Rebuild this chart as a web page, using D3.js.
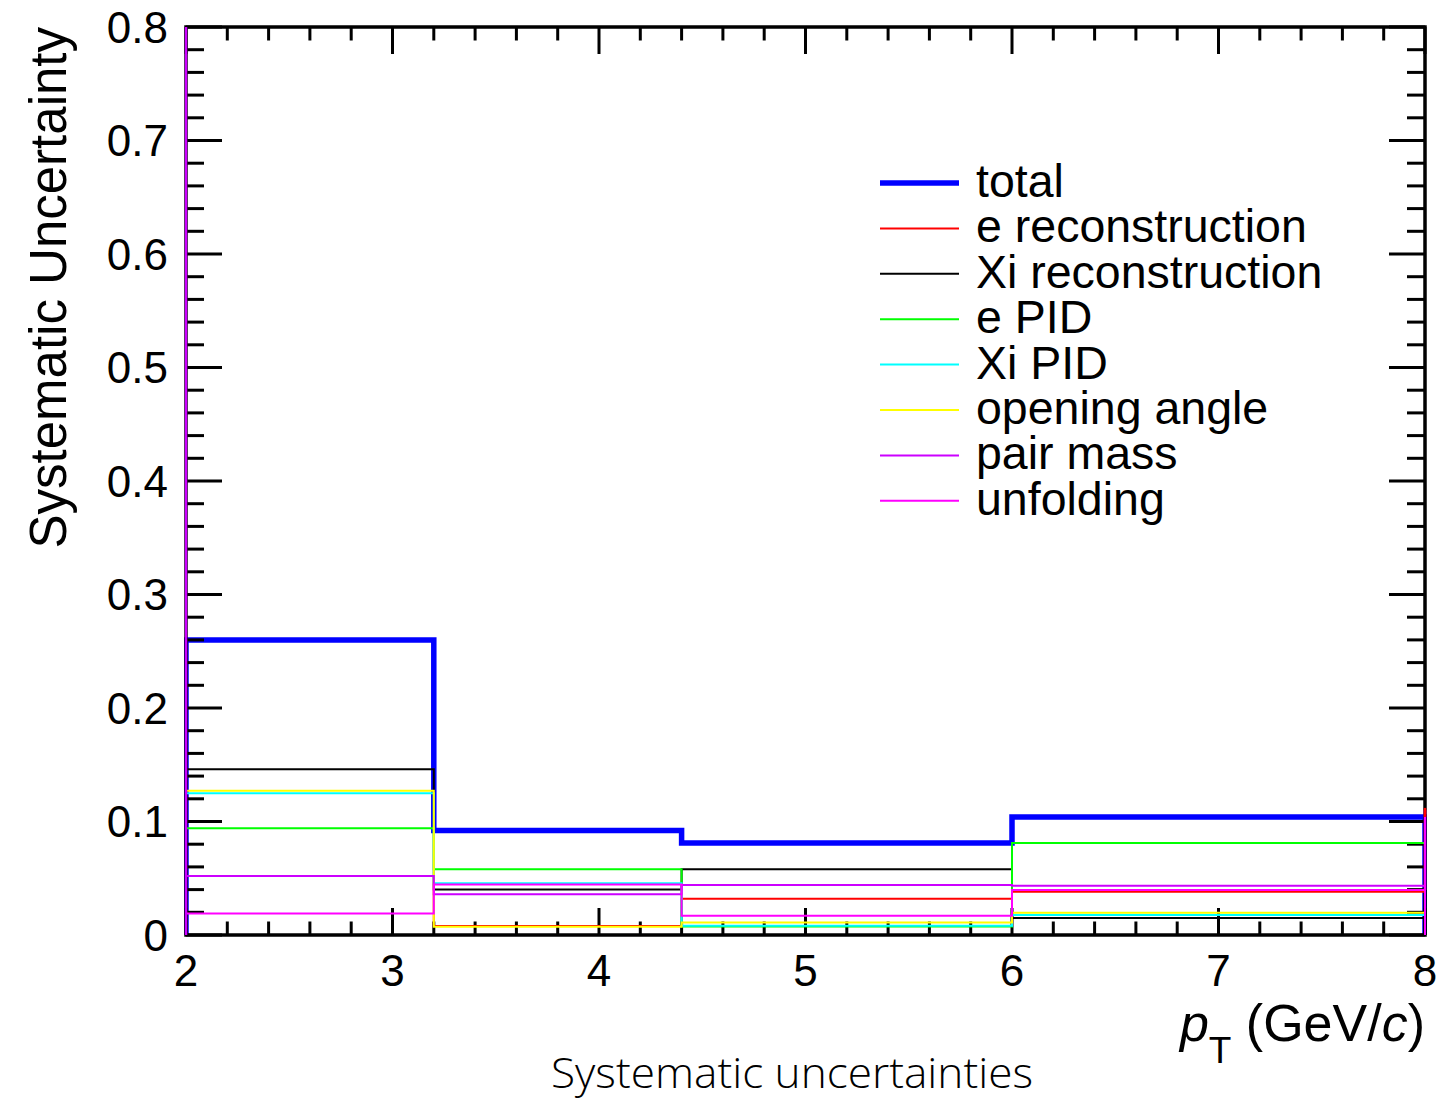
<!DOCTYPE html>
<html>
<head>
<meta charset="utf-8">
<script src="https://cdn.jsdelivr.net/npm/d3@7"></script>
<style>
  html, body { margin: 0; padding: 0; background: #fff; }
  svg { display: block; }
  text { font-family: "Liberation Sans", Arial, Helvetica, sans-serif; fill: #000; }
</style>
</head>
<body>
<script>
// ---------- data ----------
const binEdges = [2, 3.2, 4.4, 6, 8];
const total        = [0.260, 0.092, 0.081, 0.104];
const eReco        = [0.052, 0.008, 0.032, 0.038];
const xiReco       = [0.146, 0.040, 0.058, 0.015];
const ePID         = [0.094, 0.058, 0.0075, 0.081];
const xiPID        = [0.125, 0.0455, 0.0082, 0.0176];
const openingAngle = [0.127, 0.0073, 0.011, 0.0196];
const pairMass     = [0.052, 0.036, 0.044, 0.0434];
const unfolding    = [0.019, 0.0445, 0.017, 0.0396];

const seriesNames  = ["total", "e reconstruction", "Xi reconstruction", "e PID", "Xi PID", "opening angle", "pair mass", "unfolding"];
const seriesColors = ["#0000ff", "#ff0000", "#000000", "#00ff00", "#00ffff", "#ffff00", "#cc00ff", "#ff00ff"];
const seriesValues = [total, eReco, xiReco, ePID, xiPID, openingAngle, pairMass, unfolding];

const xTickValues = [2, 3, 4, 5, 6, 7, 8];
const yTickValues = [0, 0.1, 0.2, 0.3, 0.4, 0.5, 0.6, 0.7, 0.8];
const yTickLabels = ["0", "0.1", "0.2", "0.3", "0.4", "0.5", "0.6", "0.7", "0.8"];

// edge strokes drawn by the histograms at the outer bin edges
const edgeStrokes = [
  {series: 6, x: 2, y0: 0, y1: 0.8},
  {series: 7, x: 8, y0: 0.0396, y1: 0.110},
  {series: 1, x: 8, y0: 0.104, y1: 0.112}
];

// ---------- layout ----------
const W = 1437, H = 1099;
const L = 186, R = 1425, T = 27, B = 935;

const svg = d3.select("body").append("svg").attr("width", W).attr("height", H);

const x = d3.scaleLinear().domain([2, 8]).range([L, R]);
const y = d3.scaleLinear().domain([0, 0.8]).range([B, T]);

svg.append("defs").append("clipPath").attr("id", "clip")
  .append("rect").attr("x", L - 2).attr("y", T - 2).attr("width", R - L + 4).attr("height", B - T + 4);

function stepPath(vals) {
  const p = d3.path();
  p.moveTo(x(binEdges[0]), y(0));
  vals.forEach((v, i) => {
    p.lineTo(x(binEdges[i]), y(v));
    p.lineTo(x(binEdges[i + 1]), y(v));
  });
  p.lineTo(x(binEdges[binEdges.length - 1]), y(0));
  return p.toString();
}

const plot = svg.append("g").attr("clip-path", "url(#clip)");

// total (drawn first, under the axis ticks)
plot.append("path").attr("d", stepPath(total))
  .attr("fill", "none").attr("stroke", seriesColors[0]).attr("stroke-width", 5.5)
  .attr("stroke-linejoin", "miter");

// ---------- axes (ROOT style, ticks inside on all four sides) ----------
const axes = svg.append("g");
const yMinor = d3.range(0, 0.8001, 0.02);
const xMinor = d3.range(2, 8.0001, 0.2);

function isMajor(v, step) { return Math.abs(v / step - Math.round(v / step)) < 1e-6; }

yMinor.forEach(v => {
  const len = isMajor(v, 0.1) ? 36 : 18;
  axes.append("line").attr("x1", L).attr("x2", L + len).attr("y1", y(v)).attr("y2", y(v))
    .attr("stroke", "#000").attr("stroke-width", 3);
  axes.append("line").attr("x1", R).attr("x2", R - len).attr("y1", y(v)).attr("y2", y(v))
    .attr("stroke", "#000").attr("stroke-width", 3);
});
xMinor.forEach(v => {
  const len = isMajor(v, 1) ? 27 : 13.5;
  axes.append("line").attr("x1", x(v)).attr("x2", x(v)).attr("y1", B).attr("y2", B - len)
    .attr("stroke", "#000").attr("stroke-width", 3);
  axes.append("line").attr("x1", x(v)).attr("x2", x(v)).attr("y1", T).attr("y2", T + len)
    .attr("stroke", "#000").attr("stroke-width", 3);
});
axes.append("rect").attr("x", L).attr("y", T).attr("width", R - L).attr("height", B - T)
  .attr("fill", "none").attr("stroke", "#000").attr("stroke-width", 3.5);

// other series on top
const plot2 = svg.append("g").attr("clip-path", "url(#clip)");
seriesValues.slice(1).forEach((vals, k) => {
  plot2.append("path").attr("d", stepPath(vals))
    .attr("fill", "none").attr("stroke", seriesColors[k + 1]).attr("stroke-width", 2);
});
edgeStrokes.forEach(e => {
  plot2.append("line").attr("x1", x(e.x)).attr("x2", x(e.x)).attr("y1", y(e.y0)).attr("y2", y(e.y1))
    .attr("stroke", seriesColors[e.series]).attr("stroke-width", 2.5);
});

// tick labels
svg.append("g").selectAll("text").data(yTickValues).join("text")
  .attr("x", 168).attr("y", d => y(d)).attr("dy", "0.36em")
  .attr("text-anchor", "end").attr("font-size", 44)
  .text((d, i) => yTickLabels[i]);

svg.append("g").selectAll("text").data(xTickValues).join("text")
  .attr("x", d => x(d)).attr("y", 986)
  .attr("text-anchor", "middle").attr("font-size", 44)
  .text(d => d);

// axis titles
svg.append("text")
  .attr("transform", `translate(66, ${T}) rotate(-90)`)
  .attr("text-anchor", "end").attr("font-size", 51)
  .text("Systematic Uncertainty");

const xt = svg.append("text").attr("x", R).attr("y", 1041).attr("text-anchor", "end").attr("font-size", 52);
xt.append("tspan").attr("font-style", "italic").text("p");
xt.append("tspan").attr("font-size", 37).attr("dy", 22).text("T");
xt.append("tspan").attr("dy", -22).text(" (GeV/");
xt.append("tspan").attr("font-style", "italic").text("c");
xt.append("tspan").text(")");

// caption
svg.append("text").attr("x", 792).attr("y", 1088).attr("text-anchor", "middle")
  .attr("font-size", 43).attr("textLength", 482).attr("lengthAdjust", "spacingAndGlyphs")
  .style("font-family", "'Open Sans', sans-serif").style("font-weight", 300)
  .text("Systematic uncertainties");

// ---------- legend ----------
const leg = svg.append("g");
const legY0 = 183, legDy = 45.4;
seriesNames.forEach((name, i) => {
  const yy = legY0 + i * legDy;
  leg.append("line").attr("x1", 880).attr("x2", 959).attr("y1", yy).attr("y2", yy)
    .attr("stroke", seriesColors[i]).attr("stroke-width", i === 0 ? 5.5 : 2);
  leg.append("text").attr("x", 976).attr("y", yy + 14).attr("font-size", 46.5).text(name);
});
</script>
</body>
</html>
